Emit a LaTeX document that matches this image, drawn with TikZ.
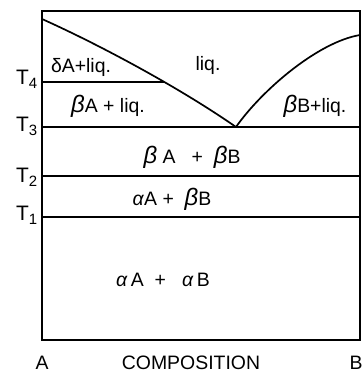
\documentclass[tikz,border=0pt]{standalone}
\usepackage{fontspec}
\setmainfont{Liberation Sans}
\usetikzlibrary{intersections}
\newcommand{\gbeta}{{\fontsize{24}{24}\selectfont\textit{β}}}
\newcommand{\galpha}{\textit{α}}
\newcommand{\tsub}[1]{\raisebox{-0.45ex}{\fontsize{15}{15}\selectfont #1}}
\begin{document}
\begin{tikzpicture}[x=1bp,y=-1bp,
  frame/.style={line width=1.9bp,black},
  phase/.style={line width=1.7bp,black},
  lbl/.style={font=\fontsize{19.5}{22}\selectfont,inner sep=0pt,anchor=base},
  tlbl/.style={font=\fontsize{21}{22}\selectfont,inner sep=0pt,anchor=base west}]
\useasboundingbox (0,0) rectangle (362,372);
\fill[white] (0,0) rectangle (362,372);
% frame
\draw[frame] (42,11) rectangle (360,340);
% liquidus curves
\coordinate (topL) at (42,19);
\coordinate (eut) at (236,127);
\coordinate (topR) at (360,35);
\draw[phase, name path=liqL] (topL) .. controls (100,45) and (180,88) .. (eut);
\draw[phase] (eut) .. controls (262,90) and (318,42) .. (topR);
% isotherms
\path[name path=t4] (42,82) -- (360,82);
\path[name intersections={of=liqL and t4, by=t4end}];
\coordinate (t4start) at (42,82);
\draw[phase] (t4start) -- (t4end);
\coordinate (t3a) at (42,127); \coordinate (t3b) at (360,127);
\coordinate (t2a) at (42,176); \coordinate (t2b) at (360,176);
\coordinate (t1a) at (42,217); \coordinate (t1b) at (360,217);
\draw[phase] (t3a) -- (t3b);
\draw[phase] (t2a) -- (t2b);
\draw[phase] (t1a) -- (t1b);
% temperature labels
\node[tlbl] (T4) at (16,84) {T\tsub{4}};
\node[tlbl] (T3) at (16,131) {T\tsub{3}};
\node[tlbl] (T2) at (16,182) {T\tsub{2}};
\node[tlbl] (T1) at (16,220) {T\tsub{1}};
% region labels
\node[lbl] (r1) at (81,72) {δA+liq.};
\node[lbl] (r2) at (208,70) {liq.};
\node[lbl] (r3) at (108,112) {\gbeta A + liq.};
\node[lbl] (r4) at (315,112) {\gbeta B+liq.};
\node[lbl] (r5) at (192,163) {\gbeta\ A \ \ + \ \gbeta B};
\node[lbl] (r6) at (172,205) {\galpha A + \ \gbeta B};
\node[lbl] (r7) at (163,286) {\galpha\,A \ + \ \ \galpha\,B};
% axis labels
\node[lbl] (A) at (42,369) {A};
\node[lbl] (comp) at (191,369) {COMPOSITION};
\node[lbl] (B) at (356,369) {B};
\end{tikzpicture}
\end{document}
